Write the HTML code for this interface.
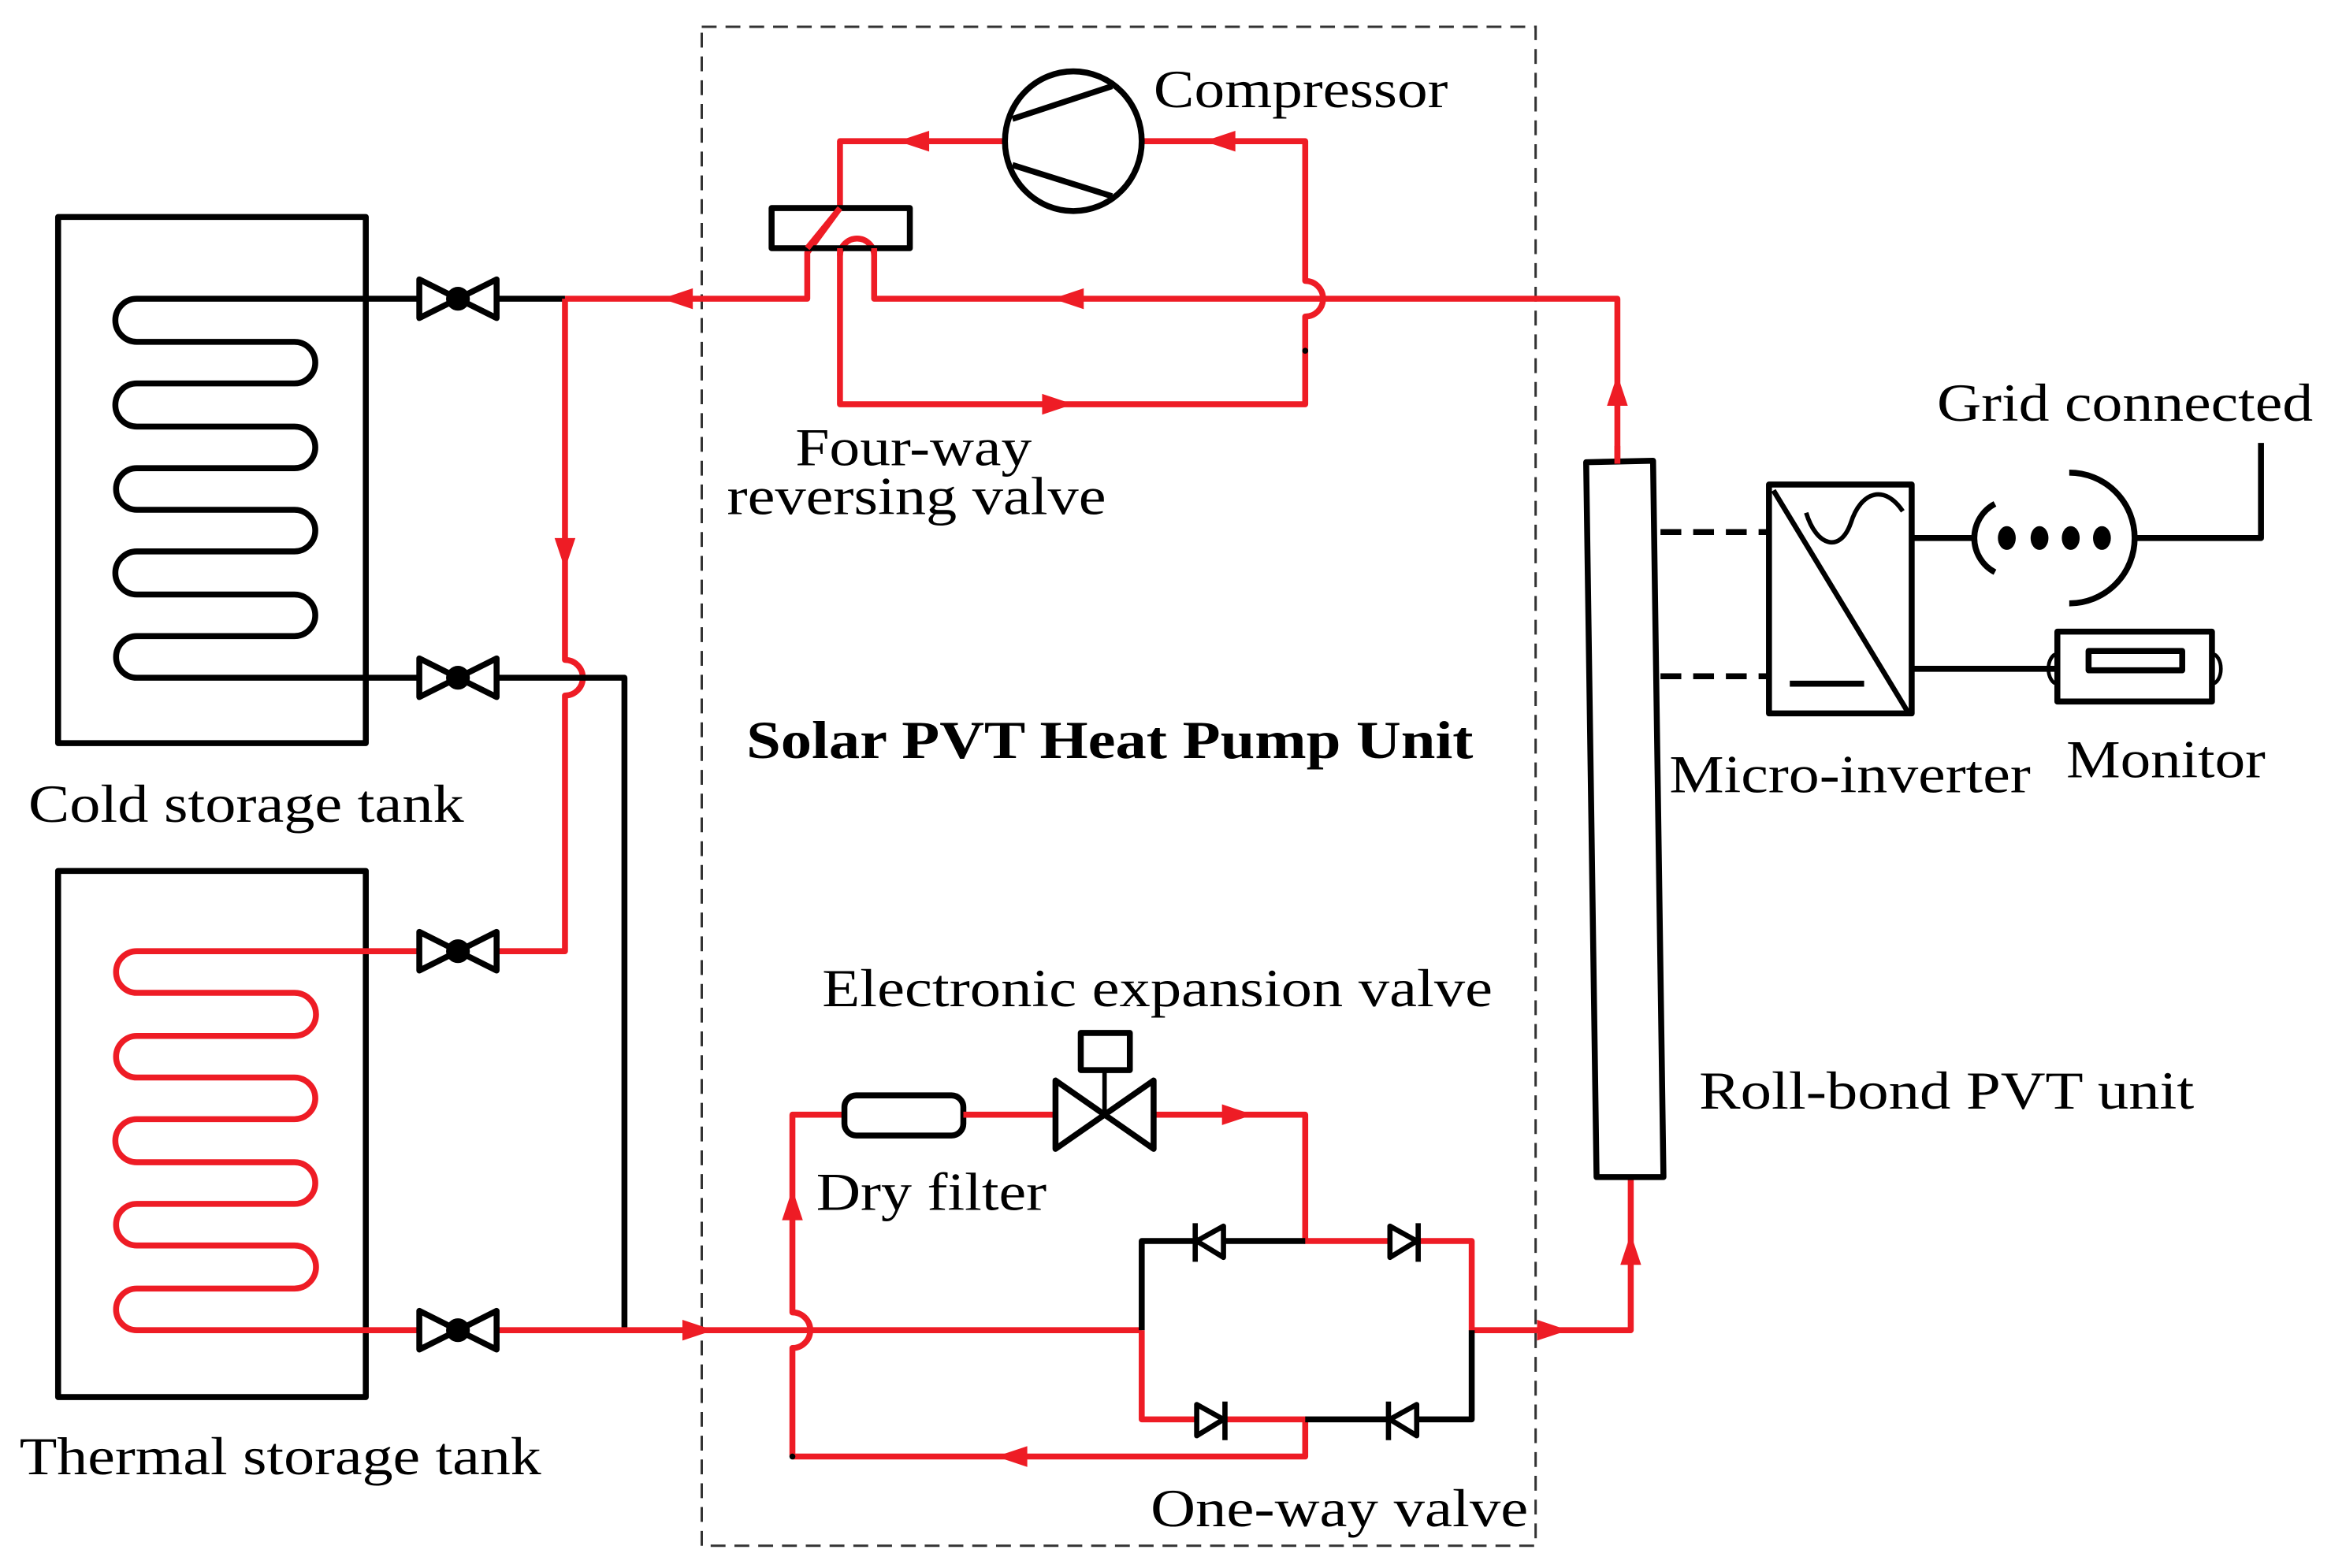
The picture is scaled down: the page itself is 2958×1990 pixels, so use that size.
<!DOCTYPE html>
<html><head><meta charset="utf-8"><style>
html,body{margin:0;padding:0;background:#fff;}
svg{display:block;}
text{font-family:"Liberation Serif",serif;fill:#000;}
</style></head><body>
<svg width="2958" height="1990" viewBox="0 0 1568 1055" xmlns="http://www.w3.org/2000/svg">
<defs>
<g id="valve"><polygon points="-26,-13 -26,13 0,0" fill="#fff" stroke="#000" stroke-width="4" stroke-linejoin="round"/><polygon points="26,-13 26,13 0,0" fill="#fff" stroke="#000" stroke-width="4" stroke-linejoin="round"/><circle r="8" fill="#000"/></g>
</defs>
<rect width="1568" height="1055" fill="#fff"/>
<rect x="472" y="18" width="561" height="1022" fill="none" stroke="#333" stroke-width="1.6" stroke-dasharray="10,6"/>

<g fill="none" stroke-linejoin="round">
<rect x="39" y="146" width="207" height="354" stroke="#000" stroke-width="4"/>
<path d="M282,201 H92 A14.5,14.5 0 0 0 92,230 H198 A14,14 0 0 1 198,258 H92 A14.5,14.5 0 0 0 92,287 H198 A14,14 0 0 1 198,315 H92 A14,14 0 0 0 92,343 H198 A14,14 0 0 1 198,371 H92 A14.5,14.5 0 0 0 92,400 H198 A14,14 0 0 1 198,428 H92 A14,14 0 0 0 92,456 H282" stroke="#000" stroke-width="4"/>
<rect x="39" y="586" width="207" height="354" stroke="#000" stroke-width="4"/>
<path d="M282,640 H92 A14,14 0 0 0 92,668 H198 A14.5,14.5 0 0 1 198,697 H92 A14,14 0 0 0 92,725 H198 A14,14 0 0 1 198,753 H92 A14.5,14.5 0 0 0 92,782 H198 A14,14 0 0 1 198,810 H92 A14,14 0 0 0 92,838 H198 A14.5,14.5 0 0 1 198,867 H92 A14,14 0 0 0 92,895 H282" stroke="#ee1c25" stroke-width="4"/>
<path d="M334,201 H380" stroke="#000" stroke-width="4"/>
<path d="M380,201 H543 V170 L565,140 V95 H675" stroke="#ee1c25" stroke-width="4"/>
<path d="M380,201 V444 A12,12 0 0 1 380,468 V640 H334" stroke="#ee1c25" stroke-width="4"/>
<path d="M334,456 H420 V895" stroke="#000" stroke-width="4"/>
<path d="M334,895 H768" stroke="#ee1c25" stroke-width="4"/>
<path d="M769,95 H878 V189 A12,12 0 0 1 878,213 V272 H565 V172 A11.5,11.5 0 0 1 588,172 V201 H1088 V310" stroke="#ee1c25" stroke-width="4"/>
<rect x="519" y="140" width="93" height="27" stroke="#000" stroke-width="4"/>
<path d="M543,167 L565,140" stroke="#ee1c25" stroke-width="4"/>
<path d="M565,172 V167 M588,172 V167" stroke="#ee1c25" stroke-width="4"/>
<ellipse cx="722" cy="95" rx="46" ry="47" fill="#fff" stroke="#000" stroke-width="4"/>
<path d="M681,80 L748,58 M681,111 L748,132" stroke="#000" stroke-width="4"/>
<path d="M533,980 V907 A12,12 0 0 0 533,883 V750 H568" stroke="#ee1c25" stroke-width="4"/>
<rect x="568" y="737" width="80" height="27" rx="8" stroke="#000" stroke-width="4"/>
<path d="M648,750 H710 M776,750 H878 V835 H990 V895 H1097 V792" stroke="#ee1c25" stroke-width="4"/>
<path d="M710,727 L710,773 L776,727 L776,773 Z" fill="#fff" stroke="#000" stroke-width="4"/>
<path d="M743,720 V750" stroke="#000" stroke-width="3"/>
<rect x="727" y="695" width="33" height="25" stroke="#000" stroke-width="4"/>
<path d="M878,835 H768 V895" stroke="#000" stroke-width="4"/>
<path d="M768,895 V955 H878 V980 H533" stroke="#ee1c25" stroke-width="4"/>
<path d="M878,955 H990 V895" stroke="#000" stroke-width="4"/>
<g stroke="#000" stroke-width="3.5" fill="#fff">
<polygon points="823,825 823,846 805,835"/><path d="M804,823 V849"/>
<polygon points="935,825 935,846 953,835"/><path d="M954,823 V849"/>
<polygon points="805,945 805,966 823,955"/><path d="M824,943 V969"/>
<polygon points="953,945 953,966 935,955"/><path d="M934,943 V969"/>
</g>
<path d="M1067,311 L1112,310 L1119,792 L1074,792 Z" stroke="#000" stroke-width="4"/>
<path d="M1088,300 V312" stroke="#ee1c25" stroke-width="4"/>
<path d="M1117,358 H1190 M1117,455 H1190" stroke="#000" stroke-width="4" stroke-dasharray="14,8"/>
<rect x="1190" y="326" width="96" height="154" stroke="#000" stroke-width="4"/>
<path d="M1193,330 L1284,480" stroke="#000" stroke-width="3.5"/>
<path d="M1215,345 C1222,368 1238,372 1245,352 C1252,330 1268,326 1280,344" stroke="#000" stroke-width="3"/>
<path d="M1204,460 H1254" stroke="#000" stroke-width="4"/>
<path d="M1286,362 H1328 M1435,362 H1521 V298" stroke="#000" stroke-width="4"/>
<path d="M1342,339 A26,26 0 0 0 1342,385" stroke="#000" stroke-width="4"/>
<path d="M1392,318 A44,44 0 0 1 1392,406" stroke="#000" stroke-width="4"/>
<g fill="#000"><ellipse cx="1350" cy="362" rx="6" ry="8"/><ellipse cx="1372" cy="362" rx="6" ry="8"/><ellipse cx="1393" cy="362" rx="6" ry="8"/><ellipse cx="1414" cy="362" rx="6" ry="8"/></g>
<path d="M1286,450 H1384" stroke="#000" stroke-width="4"/>
<rect x="1384" y="425" width="104" height="47" stroke="#000" stroke-width="4"/>
<rect x="1405" y="438" width="63" height="13" stroke="#000" stroke-width="4"/>
<path d="M1384,440 A6,10 0 0 0 1384,460 M1488,440 A6,10 0 0 1 1488,460" stroke="#000" stroke-width="2.5"/>
</g>
<g fill="#ee1c25">
<polygon points="445,201 466,194 466,208"/>
<polygon points="604,95 625,88 625,102"/>
<polygon points="810,95 831,88 831,102"/>
<polygon points="708,201 729,194 729,208"/>
<polygon points="722,272 701,265 701,279"/>
<polygon points="380,383 373,362 387,362"/>
<polygon points="1088,252 1081,273 1095,273"/>
<polygon points="480,895 459,888 459,902"/>
<polygon points="533,800 526,821 540,821"/>
<polygon points="843,750 822,743 822,757"/>
<polygon points="670,980 691,973 691,987"/>
<polygon points="1055,895 1034,888 1034,902"/>
<polygon points="1097,830 1090,851 1104,851"/>
</g>
<circle cx="878" cy="236" r="2" fill="#000"/>
<circle cx="533" cy="980" r="2" fill="#000"/>
<use href="#valve" x="308" y="201"/>
<use href="#valve" x="308" y="456"/>
<use href="#valve" x="308" y="640"/>
<use href="#valve" x="308" y="895"/>
<g font-size="36">
<text x="776" y="72" textLength="198" lengthAdjust="spacingAndGlyphs">Compressor</text>
<text x="1303" y="283" textLength="253" lengthAdjust="spacingAndGlyphs">Grid connected</text>
<text x="535" y="313" textLength="159" lengthAdjust="spacingAndGlyphs">Four-way</text>
<text x="489" y="346" textLength="255" lengthAdjust="spacingAndGlyphs">reversing valve</text>
<text x="502" y="510" font-weight="bold" textLength="489" lengthAdjust="spacingAndGlyphs">Solar PVT Heat Pump Unit</text>
<text x="19" y="553" textLength="293" lengthAdjust="spacingAndGlyphs">Cold storage tank</text>
<text x="1123" y="533" textLength="243" lengthAdjust="spacingAndGlyphs">Micro-inverter</text>
<text x="1390" y="523" textLength="134" lengthAdjust="spacingAndGlyphs">Monitor</text>
<text x="553" y="677" textLength="451" lengthAdjust="spacingAndGlyphs">Electronic expansion valve</text>
<text x="1143" y="746" textLength="333" lengthAdjust="spacingAndGlyphs">Roll-bond PVT unit</text>
<text x="549" y="814" textLength="155" lengthAdjust="spacingAndGlyphs">Dry filter</text>
<text x="13" y="992" textLength="351" lengthAdjust="spacingAndGlyphs">Thermal storage tank</text>
<text x="774" y="1027" textLength="254" lengthAdjust="spacingAndGlyphs">One-way valve</text>
</g>
</svg>
</body></html>
